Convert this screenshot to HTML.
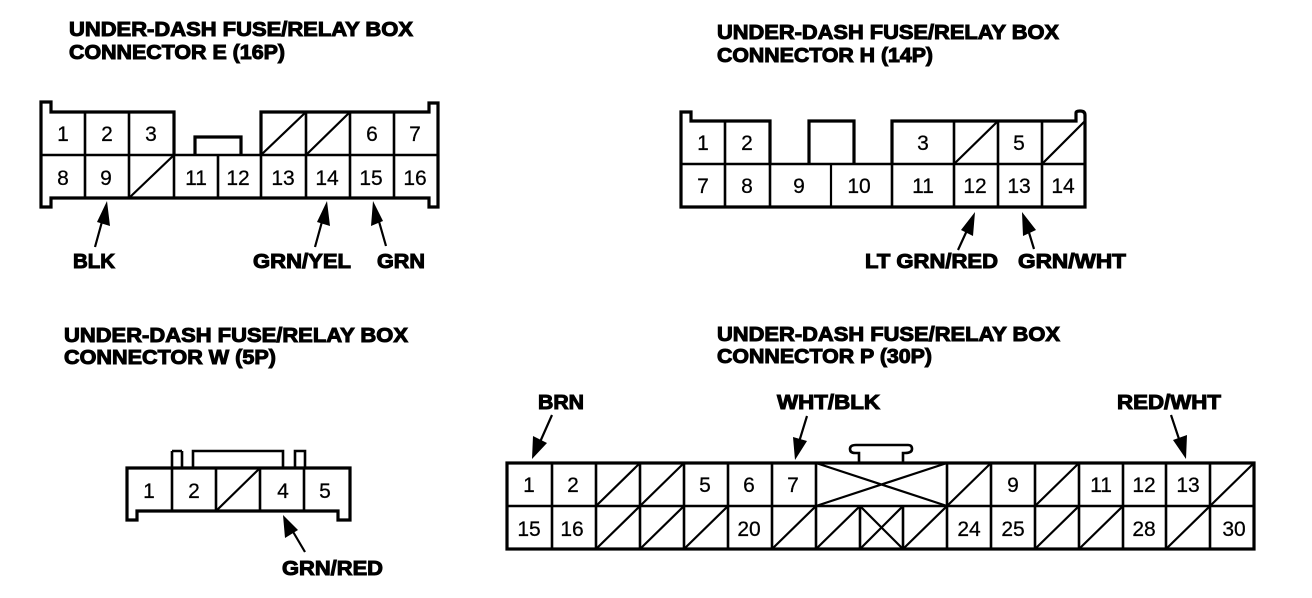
<!DOCTYPE html>
<html><head><meta charset="utf-8"><style>
html,body{margin:0;padding:0;background:#fff}
svg{display:block}
.b{font:bold 20px "Liberation Sans",sans-serif;fill:#000;stroke:#000;stroke-width:1}
.n{font:21px "Liberation Sans",sans-serif;fill:#000;stroke:#000;stroke-width:.25;text-anchor:middle}
.o{fill:none;stroke:#000;stroke-width:3.2;stroke-linejoin:miter}
.i{fill:none;stroke:#000;stroke-width:2.6}
.d{fill:none;stroke:#000;stroke-width:2.2}
.a{fill:none;stroke:#000;stroke-width:2.2}
</style></head><body>
<svg width="1312" height="598" viewBox="0 0 1312 598" xmlns="http://www.w3.org/2000/svg">
<rect width="1312" height="598" fill="#fff"/>

<!-- headings -->
<text class="b" x="69" y="36" textLength="344" lengthAdjust="spacingAndGlyphs">UNDER-DASH FUSE/RELAY BOX</text>
<text class="b" x="69" y="59" textLength="216" lengthAdjust="spacingAndGlyphs">CONNECTOR E (16P)</text>
<text class="b" x="717" y="39" textLength="342" lengthAdjust="spacingAndGlyphs">UNDER-DASH FUSE/RELAY BOX</text>
<text class="b" x="717" y="62" textLength="216" lengthAdjust="spacingAndGlyphs">CONNECTOR H (14P)</text>
<text class="b" x="64" y="342" textLength="344" lengthAdjust="spacingAndGlyphs">UNDER-DASH FUSE/RELAY BOX</text>
<text class="b" x="64" y="364" textLength="212" lengthAdjust="spacingAndGlyphs">CONNECTOR W (5P)</text>
<text class="b" x="717" y="341" textLength="343" lengthAdjust="spacingAndGlyphs">UNDER-DASH FUSE/RELAY BOX</text>
<text class="b" x="717" y="363" textLength="215" lengthAdjust="spacingAndGlyphs">CONNECTOR P (30P)</text>

<!-- connector E -->
<path class="o" d="M41 155V102H51V112H174V155M261 155V112H429V103H438V155M41 155V207H51V198H429V207H438V155M195 155V137H241V155"/>
<path class="i" d="M41 155H438M85 112V198M129 112V198M174 112V198M218 155V198M261 112V198M306 112V198M350 112V198M394 112V198"/>
<path class="d" d="M129 198L174 155M261 155L306 112M306 155L350 112"/>
<text class="n" x="63" y="141">1</text><text class="n" x="107" y="141">2</text><text class="n" x="151" y="141">3</text><text class="n" x="372" y="141">6</text><text class="n" x="415" y="141">7</text>
<text class="n" x="63" y="185">8</text><text class="n" x="106" y="185">9</text><text class="n" x="196" y="185">11</text><text class="n" x="238" y="185">12</text><text class="n" x="283" y="185">13</text><text class="n" x="327" y="185">14</text><text class="n" x="371" y="185">15</text><text class="n" x="415" y="185">16</text>
<path class="a" d="M95 247L103 218M315 247L323 218M386 246L378 218"/>
<path d="M107 201L97 222L110 226Z M327 201L317 222L330 226Z M373 201L371 226L383 221Z"/>
<text class="b" x="73" y="268" textLength="42" lengthAdjust="spacingAndGlyphs">BLK</text>
<text class="b" x="253" y="268" textLength="98" lengthAdjust="spacingAndGlyphs">GRN/YEL</text>
<text class="b" x="377" y="268" textLength="48" lengthAdjust="spacingAndGlyphs">GRN</text>

<!-- connector H -->
<path class="o" d="M681 164V112H691V121H770V164M892 164V121H1076V113Q1076 111 1080 111Q1085 111 1085 115V164M681 164V207H1085V164M809 164V121H854V164"/>
<path class="i" d="M681 164H1085M725 121V207M770 121V207M892 121V207M954 121V207M998 121V207M1042 121V207"/>
<path class="d" d="M831 164V207M954 164L998 121M1042 164L1085 121"/>
<text class="n" x="703" y="150">1</text><text class="n" x="747" y="150">2</text><text class="n" x="923" y="150">3</text><text class="n" x="1019" y="150">5</text>
<text class="n" x="703" y="193">7</text><text class="n" x="747" y="193">8</text><text class="n" x="799" y="193">9</text><text class="n" x="859" y="193">10</text><text class="n" x="923" y="193">11</text><text class="n" x="975" y="193">12</text><text class="n" x="1019" y="193">13</text><text class="n" x="1063" y="193">14</text>
<path class="a" d="M958 250L969 226M1034 249L1027 226"/>
<path d="M975 212L961 230L973 236Z M1022 212L1023 236L1036 230Z"/>
<text class="b" x="865" y="268" textLength="133" lengthAdjust="spacingAndGlyphs">LT GRN/RED</text>
<text class="b" x="1018" y="268" textLength="108" lengthAdjust="spacingAndGlyphs">GRN/WHT</text>

<!-- connector W -->
<path class="o" d="M127 468H350V520H338V511H137V520H127Z"/>
<path class="i" d="M172 451V468M182 451V468M172 451H182M193 468V451H283V468M295 468V451H305V468M172 468V511M216 468V511M260 468V511M304 468V511"/>
<path class="d" d="M216 511L260 468"/>
<text class="n" x="149" y="498">1</text><text class="n" x="194" y="498">2</text><text class="n" x="283" y="498">4</text><text class="n" x="325" y="498">5</text>
<path class="a" d="M305 552L292 530"/>
<path d="M283 515L285 538L298 530Z"/>
<text class="b" x="282" y="575" textLength="101" lengthAdjust="spacingAndGlyphs">GRN/RED</text>

<!-- connector P -->
<rect class="o" x="507" y="463" width="747" height="86"/>
<path class="i" d="M507 506H1254M552 463V549M596 463V549M640 463V549M684 463V549M728 463V549M772 463V549M816 463V549M947 463V549M991 463V549M1035 463V549M1079 463V549M1123 463V549M1166 463V549M1210 463V549M860 506V549M903 506V549"/>
<path class="d" d="M596 506L640 463M640 506L684 463M947 506L991 463M1035 506L1079 463M1210 506L1254 463M596 549L640 506M640 549L684 506M684 549L728 506M772 549L816 506M816 549L860 506M860 506L903 549M860 549L903 506M903 549L947 506M1035 549L1079 506M1079 549L1123 506M1166 549L1210 506M816 463L947 506M816 506L947 463"/>
<path class="i" d="M859 463V453H855Q850 453 850 449Q850 445 856 445H908Q912 445 912 449Q912 453 905 453H903V463"/>
<text class="n" x="529" y="492">1</text><text class="n" x="573" y="492">2</text><text class="n" x="705" y="492">5</text><text class="n" x="749" y="492">6</text><text class="n" x="793" y="492">7</text><text class="n" x="1013" y="492">9</text><text class="n" x="1101" y="492">11</text><text class="n" x="1144" y="492">12</text><text class="n" x="1188" y="492">13</text>
<text class="n" x="529" y="536">15</text><text class="n" x="572" y="536">16</text><text class="n" x="749" y="536">20</text><text class="n" x="969" y="536">24</text><text class="n" x="1013" y="536">25</text><text class="n" x="1144" y="536">28</text><text class="n" x="1234" y="536">30</text>
<path class="a" d="M552 415L540 442M807 416L799 442M1171 415L1180 442"/>
<path d="M532 459L533 436L547 443Z M795 460L793 437L807 441Z M1186 459L1173 440L1187 435Z"/>
<text class="b" x="538" y="409" textLength="46" lengthAdjust="spacingAndGlyphs">BRN</text>
<text class="b" x="777" y="409" textLength="103" lengthAdjust="spacingAndGlyphs">WHT/BLK</text>
<text class="b" x="1117" y="409" textLength="104" lengthAdjust="spacingAndGlyphs">RED/WHT</text>
</svg>
</body></html>
